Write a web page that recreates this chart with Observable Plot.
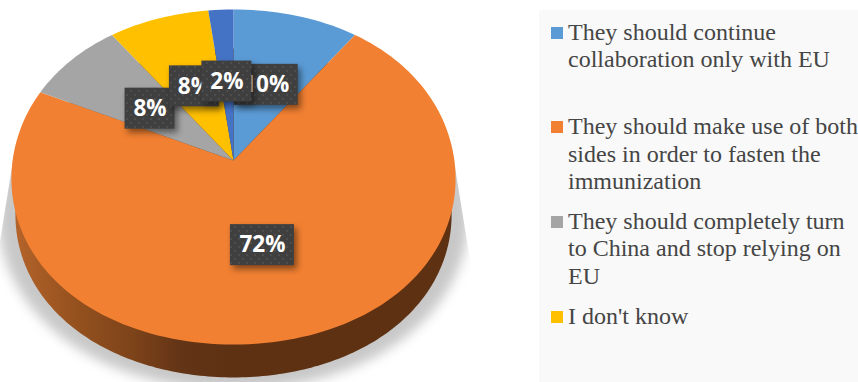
<!DOCTYPE html>
<html>
<head>
<meta charset="utf-8">
<script src="https://cdn.jsdelivr.net/npm/d3@7"></script>
<script src="https://cdn.jsdelivr.net/npm/@observablehq/plot@0.6"></script>
<style>
  html, body { margin: 0; padding: 0; background: #fff; }
  #page { position: relative; width: 858px; height: 382px; overflow: hidden; }
  #chart { position: absolute; left: 0; top: 0; }
  #legend {
    position: absolute; left: 539px; top: 10px; width: 319px; height: 372px;
    background: #f9f9f9; font: 24px/27.4px "Liberation Serif", serif; color: #454545;
  }
  .item { position: absolute; left: 12px; right: 0; height: 95px; white-space: nowrap; }
  .swatch { position: absolute; left: 0; top: 8px; width: 12px; height: 12px; }
  .item span { position: absolute; left: 17px; top: 0; }
</style>
</head>
<body>
<div id="page"><div id="chart"></div><div id="legend"></div></div>
<script>
// Survey answers, in clockwise order from twelve o'clock.
const categories = [
  "They should continue\ncollaboration only with EU",
  "They should make use of both\nsides in order to fasten the\nimmunization",
  "They should completely turn\nto China and stop relying on\nEU",
  "I don't know",
  ""
];
const values = [10, 72, 8, 8, 2];
const colors = ["#5b9bd5", "#f18032", "#a5a5a5", "#ffc000", "#4472c4"];

// Perspective of the tilted disc, in units of the pie radius.
// The rim is slightly fuller on the diagonals than a true ellipse.
const persp = 0.0985, tilt = 0.751, fullness = 0.012;
const project = (angle, r = 1, shrink = 1, drop = 0) => {
  const full = r * shrink * (1 + fullness * Math.sin(2 * angle) ** 2);
  const u = Math.sin(angle) * full, v = Math.cos(angle) * full;
  const w = 1 + persp * v / shrink;
  return {x: u / w, y: tilt * v / w - drop};
};

const total = d3.sum(values);
let running = 0;
const slices = values.map((value, i) => {
  const a0 = running / total * 2 * Math.PI;
  running += value;
  const a1 = running / total * 2 * Math.PI;
  const steps = Math.max(4, Math.ceil(value * 2));
  const points = [{x: 0, y: 0},
    ...d3.range(steps + 1).map(k => project(a0 + (a1 - a0) * k / steps)), {x: 0, y: 0}];
  return {value, color: colors[i], points, label: `${value}%`, at: project((a0 + a1) / 2, 0.5)};
});

const circle = d3.range(361).map(d => d * Math.PI / 180);
const sideRim = circle.map(a => project(a, 1, 0.982, 0.164));
const shadowRim = circle.map(a => project(a, 1, 1.06, 0.155));

const defs = (index, {x, y}) => {
  const d = d3.create("svg:defs");
  const grad = d.append("linearGradient").attr("id", "side-shade");
  [[0, "#b4632a"], [0.13, "#96521f"], [0.27, "#7d4319"], [0.38, "#633416"], [0.5, "#5e3113"], [1, "#5e3113"]]
    .forEach(([o, c]) => grad.append("stop").attr("offset", o).attr("stop-color", c));
  const pat = d.append("pattern").attr("id", "label-dots").attr("patternUnits", "userSpaceOnUse")
    .attr("width", 8).attr("height", 8);
  pat.append("rect").attr("width", 8).attr("height", 8).attr("fill", "#3f3f3f");
  [[2, 2], [6, 6]].forEach(([px, py]) => pat.append("rect").attr("x", px).attr("y", py)
    .attr("width", 2).attr("height", 2).attr("fill", "#4d4d4d"));
  // The cast shadow has straight flanks that widen toward the ground.
  const flank = [[-0.99, 0.05], [0.99, 0.05], [1.16, -1.005], [-1.16, -1.005]];
  d.append("clipPath").attr("id", "shadow-flanks").append("polygon")
    .attr("points", flank.map(([px, py]) => `${x(px)},${y(py)}`).join(" "));
  return d.node();
};

const labelMarks = slices.flatMap(s => {
  const half = s.label.length > 2 ? 32 : 25;
  return [
    Plot.rect([s.at], {
      x1: "x", x2: "x", y1: "y", y2: "y",
      insetLeft: -half, insetRight: -half, insetTop: -20.5, insetBottom: -20.5,
      fill: "url(#label-dots)", imageFilter: "drop-shadow(3px 4px 3px rgba(0,0,0,0.45))"
    }),
    Plot.text([s.at], {
      x: "x", y: "y", text: () => s.label, fill: "#fff", fontSize: 22.5, fontWeight: 700,
      fontFamily: "'Open Sans'"
    })
  ];
});

const chart = Plot.plot({
  width: 539, height: 382, margin: 0,
  x: {axis: null, domain: [-233 / 220.9, 306 / 220.9]},
  y: {axis: null, domain: [-222 / 220.9, 160 / 220.9]},
  marks: [
    defs,
    Plot.line(shadowRim, {
      x: "x", y: "y", fill: "#c8c8c8", stroke: "none", imageFilter: "blur(6px)",
      render(index, scales, values, dimensions, context, next) {
        const g = next(index, scales, values, dimensions, context);
        g.setAttribute("clip-path", "url(#shadow-flanks)");
        return g;
      }
    }),
    Plot.line(sideRim, {x: "x", y: "y", fill: "url(#side-shade)", stroke: "none"}),
    ...slices.map(s => Plot.line(s.points, {x: "x", y: "y", fill: s.color, stroke: "none"})),
    ...labelMarks
  ]
});
document.getElementById("chart").append(chart);

// Legend: four equal rows beside the pie.
const legend = d3.select("#legend");
categories.slice(0, 4).forEach((name, i) => {
  const item = legend.append("div").attr("class", "item").style("top", `${8.5 + i * 94.67}px`);
  item.append("div").attr("class", "swatch").style("background", colors[i]);
  item.append("span").html(name.split("\n").join("<br>"));
});
</script>
</body>
</html>
